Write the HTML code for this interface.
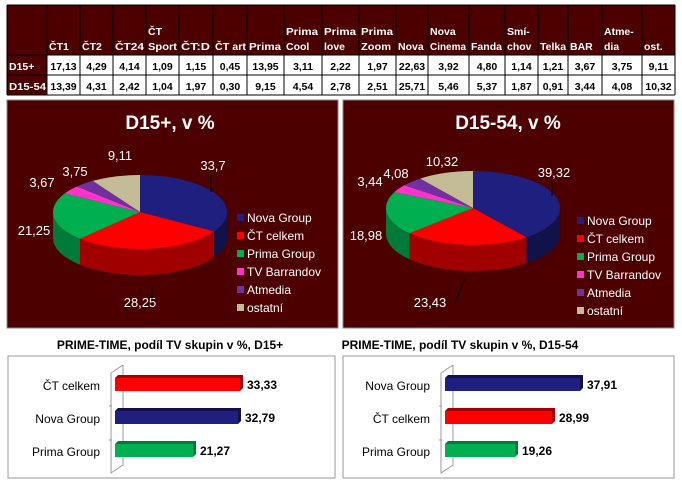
<!DOCTYPE html><html><head><meta charset="utf-8"><style>body{margin:0;background:#fff}svg{display:block}text{font-family:"Liberation Sans",sans-serif}</style></head><body>
<svg id="s" width="682" height="483" xmlns="http://www.w3.org/2000/svg"></svg>
<script>
const s=document.getElementById('s');let h='';
const xs=[7,47,80,113,146,179,213,247,284,322,359,396,428,469,505,538,568,602,642,675];
const hd=[['',''],['','ČT1'],['','ČT2'],['','ČT24'],['ČT','Sport'],['','ČT:D'],['','ČT art'],['','Prima'],['Prima','Cool'],['Prima','love'],['Prima','Zoom'],['','Nova'],['Nova','Cinema'],['','Fanda'],['Smí-','chov'],['','Telka'],['','BAR'],['Atme-','dia'],['','ost.']];
const r1=['D15+','17,13','4,29','4,14','1,09','1,15','0,45','13,95','3,11','2,22','1,97','22,63','3,92','4,80','1,14','1,21','3,67','3,75','9,11'];
const r2=['D15-54','13,39','4,31','2,42','1,04','1,97','0,30','9,15','4,54','2,78','2,51','25,71','5,46','5,37','1,87','0,91','3,44','4,08','10,32'];
const tl={'Cinema':36,'ČT art':31,'Sport':29,'Fanda':31,'ČT:D':29,'Prima':32,'Zoom':30,'ČT24':29};
h+=`<rect x="7" y="5" width="668" height="50" fill="#4d0000"/><rect x="7" y="55" width="40" height="40" fill="#4d0000"/>`;
function ht(x,y,t){if(!t)return '';const L=tl[t];return `<text x="${x}" y="${y}" font-size="10.5" font-weight="bold" fill="#fff" ${L?`textLength="${L}" lengthAdjust="spacingAndGlyphs"`:''}>${t}</text>`;}
for(let i=0;i<19;i++){const x=xs[i],w=xs[i+1]-x;
 h+=ht(x+2,35,hd[i][0])+ht(x+2,50,hd[i][1]);
 const st=i?`x="${x+w/2}" text-anchor="middle" fill="#000"`:`x="${x+2}" fill="#fff"`;
 h+=`<text ${st} y="70" font-size="10.5" font-weight="bold">${r1[i]}</text>`;
 h+=`<text ${st} y="90" font-size="10.5" font-weight="bold" ${i==0?'textLength="37" lengthAdjust="spacingAndGlyphs"':''}>${r2[i]}</text>`;}
for(const x of xs)h+=`<line x1="${x}" y1="5" x2="${x}" y2="95" stroke="#000"/>`;
for(const y of [5,55,75,95])h+=`<line x1="7" y1="${y}" x2="675" y2="${y}" stroke="#000"/>`;
const cols=['#1f1f80','#ff0000','#00b050','#ff33cc','#7030a0','#c4bc96'],walls=['#12124a','#a00000','#007a38','#b0208c','#4a1f70','#8a8464'];
const names=['Nova Group','ČT celkem','Prima Group','TV Barrandov','Atmedia','ostatní'];
function pie(px,title,tx,cx,cy,vals,labs,lx,ly){
 h+=`<rect x="${px}" y="100" width="331" height="228" fill="#4d0000" stroke="#888"/>`;
 h+=`<text x="${tx}" y="129" font-size="19" font-weight="bold" fill="#fff" text-anchor="middle">${title}</text>`;
 const rx=87,ry=37,d=26,tot=vals.reduce((a,b)=>a+b,0);
 const P=(t,dy=0)=>[cx+rx*Math.sin(t),cy-ry*Math.cos(t)+dy];
 let a=0,sl=[];
 vals.forEach((v,i)=>{const b=a+v/tot*2*Math.PI;sl.push([a,b,i]);a=b;});
 let tops='',ws='';
 sl.forEach(([a,b,i])=>{const la=(b-a)>Math.PI?1:0;const p1=P(a),p2=P(b);
  const wa=Math.max(a,Math.PI/2),wb=Math.min(b,1.5*Math.PI);
  if(wb>wa){const A=P(wa),B=P(wb),C=P(wb,d),D=P(wa,d);
   ws+=`<path d="M${A} A${rx},${ry} 0 0 1 ${B} L${C} A${rx},${ry} 0 0 0 ${D}Z" fill="${walls[i]}"/>`;}
  tops+=`<path d="M${cx},${cy} L${p1} A${rx},${ry} 0 ${la} 1 ${p2}Z" fill="${cols[i]}"/>`;});
 h+=ws+tops;
 labs.forEach(l=>h+=`<text x="${l[0]}" y="${l[1]}" font-size="13" fill="#fff" text-anchor="middle">${l[2]}</text>`);
 names.forEach((n,i)=>{h+=`<rect x="${lx}" y="${ly+i*18-8}" width="7" height="7" fill="${cols[i]}"/><text x="${lx+10}" y="${ly+i*18}" font-size="12" fill="#fff">${n}</text>`;});
}
pie(7,'D15+, v %',170,140,212,[33.7,28.25,21.25,3.67,3.75,9.11],[[213,170,'33,7'],[120,160,'9,11'],[75,176,'3,75'],[42,187,'3,67'],[34,235,'21,25'],[140,307,'28,25']],237,222);
h+=`<line x1="211" y1="174" x2="211" y2="192" stroke="#000"/><line x1="152" y1="287" x2="152" y2="300" stroke="#000"/>`;
pie(343,'D15-54, v %',508,473,208,[39.32,23.43,18.98,3.44,4.08,10.32],[[554,177,'39,32'],[442,166,'10,32'],[396,178,'4,08'],[370,186,'3,44'],[366,240,'18,98'],[430,307,'23,43']],577,225);
h+=`<line x1="552" y1="182" x2="552" y2="196" stroke="#000"/><line x1="465" y1="278" x2="455" y2="303" stroke="#000"/>`;
function bars(bx,bw,title,tx,x0,lx,data){
 h+=`<text x="${tx}" y="349" font-size="12" font-weight="bold" fill="#000" text-anchor="middle">${title}</text>`;
 h+=`<rect x="${bx}" y="356" width="${bw}" height="122" fill="#fff" stroke="#999"/>`;
 h+=`<path d="M${x0-4},373 L${x0+8},365 M${x0-4},373 V473 L${x0+8},465 V365" fill="none" stroke="#999"/>`;
 for(const y of [406,440])h+=`<line x1="${x0-6}" y1="${y}" x2="${x0-3}" y2="${y}" stroke="#999"/>`;
 data.forEach(([n,v,e,c,dc],i)=>{const y=378+i*33;
  h+=`<path d="M${x0},${y} l3,-3 H${e+3} v13 l-3,3Z" fill="${dc}"/><rect x="${x0}" y="${y}" width="${e-x0}" height="13" fill="${c}"/>`;
  h+=`<text x="${lx}" y="${y+12}" font-size="12" text-anchor="end" fill="#000">${n}</text><text x="${e+7}" y="${y+11}" font-size="12" font-weight="bold" fill="#000">${v}</text>`;});
}
bars(8,327,'PRIME-TIME, podíl TV skupin v %, D15+',170,115,100,[['ČT celkem','33,33',240,'#ff0000','#a00000'],['Nova Group','32,79',238,'#1f1f80','#10104a'],['Prima Group','21,27',193,'#00b050','#007a38']]);
bars(343,331,'PRIME-TIME, podíl TV skupin v %, D15-54',460,445,430,[['Nova Group','37,91',580,'#1f1f80','#10104a'],['ČT celkem','28,99',552,'#ff0000','#a00000'],['Prima Group','19,26',515,'#00b050','#007a38']]);
s.innerHTML=h;
</script></body></html>
